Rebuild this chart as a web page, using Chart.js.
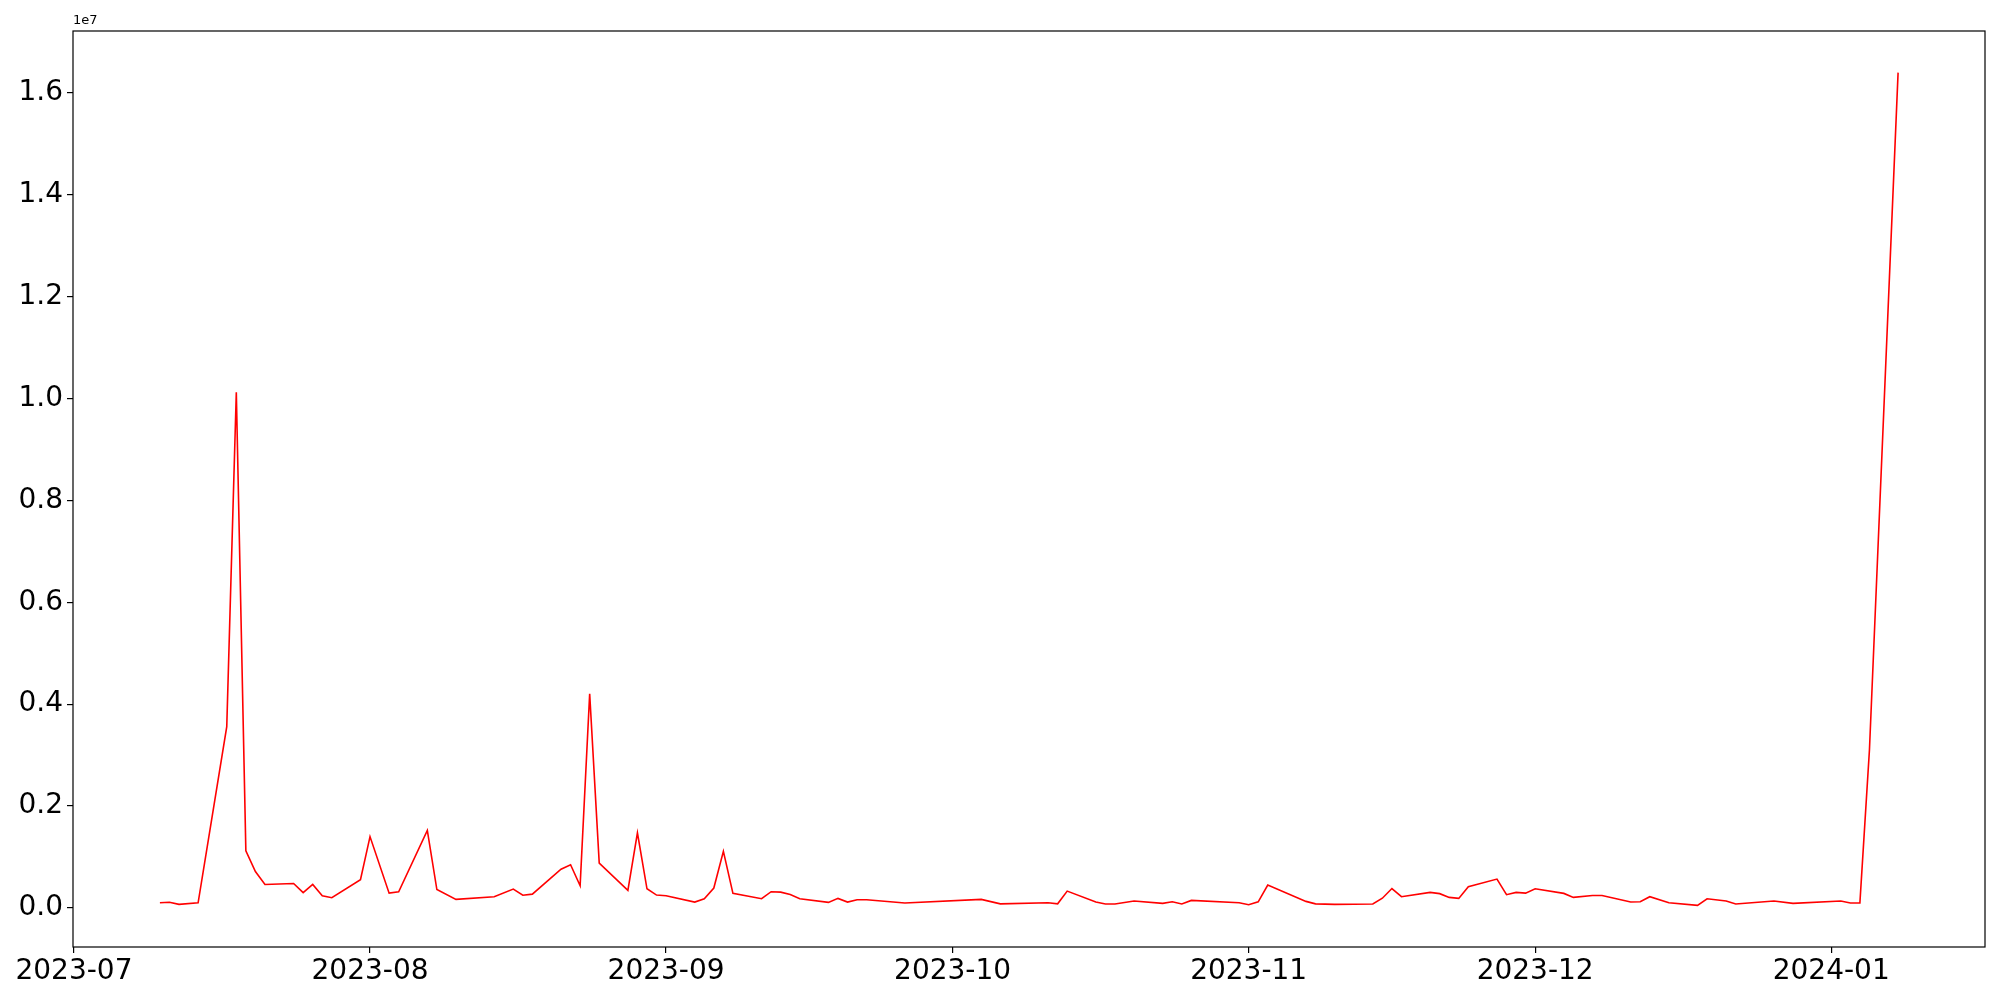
<!DOCTYPE html>
<html>
<head>
<meta charset="utf-8">
<script src="https://cdn.jsdelivr.net/npm/chart.js@4.4.1/dist/chart.umd.min.js"></script>
<style>
  body { margin: 0; background: #fff; }
  canvas { display: block; }
</style>
</head>
<body>
<canvas id="myChart" width="2000" height="1000"></canvas>
<script>
const dates = [
  "2023-07-10", "2023-07-11", "2023-07-12", "2023-07-14", "2023-07-17", "2023-07-18", "2023-07-19", "2023-07-20",
  "2023-07-21", "2023-07-24", "2023-07-25", "2023-07-26", "2023-07-27", "2023-07-28", "2023-07-31", "2023-08-01",
  "2023-08-03", "2023-08-04", "2023-08-07", "2023-08-08", "2023-08-10", "2023-08-14", "2023-08-16", "2023-08-17",
  "2023-08-18", "2023-08-21", "2023-08-22", "2023-08-23", "2023-08-24", "2023-08-25", "2023-08-28", "2023-08-29",
  "2023-08-30", "2023-08-31", "2023-09-01", "2023-09-04", "2023-09-05", "2023-09-06", "2023-09-07", "2023-09-08",
  "2023-09-11", "2023-09-12", "2023-09-13", "2023-09-14", "2023-09-15", "2023-09-18", "2023-09-19", "2023-09-20",
  "2023-09-21", "2023-09-22", "2023-09-26", "2023-10-04", "2023-10-06", "2023-10-11", "2023-10-12", "2023-10-13",
  "2023-10-16", "2023-10-17", "2023-10-18", "2023-10-20", "2023-10-23", "2023-10-24", "2023-10-25", "2023-10-26",
  "2023-10-31", "2023-11-01", "2023-11-02", "2023-11-03", "2023-11-07", "2023-11-08", "2023-11-10", "2023-11-14",
  "2023-11-15", "2023-11-16", "2023-11-17", "2023-11-20", "2023-11-21", "2023-11-22", "2023-11-23", "2023-11-24",
  "2023-11-27", "2023-11-28", "2023-11-29", "2023-11-30", "2023-12-01", "2023-12-04", "2023-12-05", "2023-12-07",
  "2023-12-08", "2023-12-11", "2023-12-12", "2023-12-13", "2023-12-15", "2023-12-18", "2023-12-19", "2023-12-21",
  "2023-12-22", "2023-12-26", "2023-12-28", "2024-01-02", "2024-01-03", "2024-01-04", "2024-01-05", "2024-01-08"
];

const values = [
  100000, 112000, 70000, 100000, 3560000, 10125000, 1120000, 715000,
  460000, 480000, 300000, 460000, 240000, 200000, 555000, 1400000,
  290000, 316000, 1520000, 360000, 167000, 220000, 370000, 250000,
  270000, 760000, 847000, 435000, 4206000, 880000, 344000, 1474000,
  376000, 252000, 240000, 115000, 180000, 390000, 1110000, 285000,
  180000, 318000, 310000, 265000, 180000, 108000, 187000, 115000,
  160000, 160000, 95000, 167000, 80000, 100000, 80000, 330000,
  115000, 76000, 76000, 135000, 90000, 120000, 76000, 147000,
  100000, 63000, 120000, 450000, 128000, 80000, 70000, 76000,
  190000, 380000, 220000, 305000, 280000, 206000, 187000, 416000,
  566000, 260000, 305000, 290000, 376000, 285000, 206000, 245000,
  245000, 115000, 120000, 220000, 100000, 50000, 180000, 135000,
  76000, 135000, 90000, 135000, 96000, 96000, 3100000, 16400000
];

const monthTicks = ["2023-07-01", "2023-08-01", "2023-09-01", "2023-10-01", "2023-11-01", "2023-12-01", "2024-01-01"];
const monthLabels = ["2023-07", "2023-08", "2023-09", "2023-10", "2023-11", "2023-12", "2024-01"];
const yTicks = [0, 2000000, 4000000, 6000000, 8000000, 10000000, 12000000, 14000000, 16000000];

const DAY = 86400000;
const origin = Date.UTC(2023, 6, 1);

function toDay(s) {
  const p = s.split("-");
  return (Date.UTC(+p[0], +p[1] - 1, +p[2]) - origin) / DAY;
}

function render() {
  const points = dates.map((d, i) => ({ x: toDay(d), y: values[i] }));
  const xs = points.map(p => p.x);
  const xMin = Math.min(...xs), xMax = Math.max(...xs);
  const yMin = Math.min(...values), yMax = Math.max(...values);
  const xPad = (xMax - xMin) * 0.05;
  const yPad = (yMax - yMin) * 0.05;
  const tickDays = monthTicks.map(toDay);

  const framePlugin = {
    id: "frame",
    afterDraw(chart) {
      const ctx = chart.ctx;
      const a = chart.chartArea;
      ctx.save();
      ctx.strokeStyle = "#000";
      ctx.lineWidth = 1.2;
      ctx.strokeRect(a.left, a.top, a.right - a.left, a.bottom - a.top);
      ctx.fillStyle = "#000";
      ctx.font = "13px 'DejaVu Sans'";
      ctx.textAlign = "left";
      ctx.textBaseline = "bottom";
      ctx.fillText("1e7", a.left, a.top - 4);
      ctx.restore();
    }
  };

  const ctx = document.getElementById("myChart").getContext("2d");
  new Chart(ctx, {
    type: "line",
    data: {
      datasets: [{
        data: points,
        borderColor: "#ff0000",
        borderWidth: 1.6,
        pointRadius: 0,
        tension: 0,
        fill: false
      }]
    },
    options: {
      responsive: false,
      devicePixelRatio: 1,
      animation: false,
      layout: { padding: { left: 0, top: 31, right: 15, bottom: 0 } },
      plugins: { legend: { display: false }, tooltip: { enabled: false } },
      scales: {
        x: {
          type: "linear",
          min: xMin - xPad,
          max: xMax + xPad,
          afterBuildTicks: (scale) => { scale.ticks = tickDays.map(v => ({ value: v })); },
          afterFit: (scale) => { scale.height = 53; },
          border: { display: false },
          grid: { drawOnChartArea: false, drawTicks: true, tickLength: 6, color: "#000", lineWidth: 1.2 },
          ticks: {
            color: "#000",
            font: { family: "DejaVu Sans", size: 28 },
            padding: 2,
            maxRotation: 0,
            autoSkip: false,
            callback: (v) => monthLabels[tickDays.indexOf(v)]
          }
        },
        y: {
          type: "linear",
          min: yMin - yPad,
          max: yMax + yPad,
          afterBuildTicks: (scale) => { scale.ticks = yTicks.map(v => ({ value: v })); },
          afterFit: (scale) => { scale.width = 73; },
          border: { display: false },
          grid: { drawOnChartArea: false, drawTicks: true, tickLength: 6, color: "#000", lineWidth: 1.2 },
          ticks: {
            color: "#000",
            font: { family: "DejaVu Sans", size: 28 },
            padding: 4,
            autoSkip: false,
            callback: (v) => (v / 1e7).toFixed(1)
          }
        }
      }
    },
    plugins: [framePlugin]
  });
}

window.onload = function() {
  render();
}
</script>
</body>
</html>
